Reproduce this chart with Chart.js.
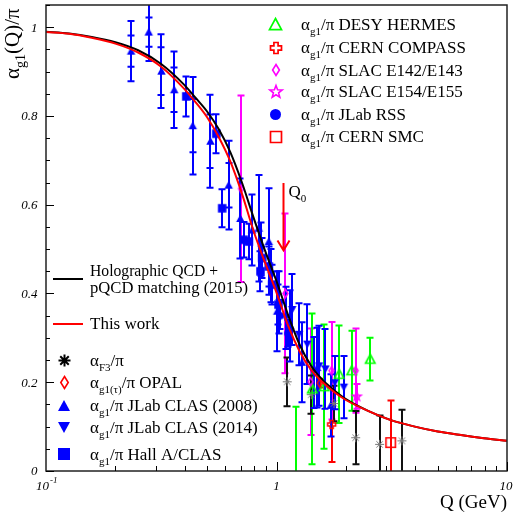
<!DOCTYPE html>
<html><head><meta charset="utf-8">
<script src="https://cdn.jsdelivr.net/npm/chart.js@4/dist/chart.umd.min.js"></script>
<style>html,body{margin:0;padding:0;background:#fff}canvas{display:block}</style>
</head><body>
<canvas id="c" width="515" height="515"></canvas>
<script>
// ---------- curves ----------
const qCurve   = [0.1, 0.126, 0.158, 0.2, 0.251, 0.316, 0.398, 0.447, 0.5, 0.562, 0.631, 0.708, 0.794, 0.891, 1.0, 1.122, 1.259, 1.413, 1.585, 1.778, 2.0, 2.51, 3.16, 3.98, 5.01, 6.31, 7.94, 10];
const holoQCD  = [0.990, 0.986, 0.978, 0.966, 0.948, 0.917, 0.870, 0.840, 0.810, 0.770, 0.718, 0.650, 0.572, 0.497, 0.428, 0.352, 0.285, 0.237, 0.205, 0.182, 0.162, 0.135, 0.114, 0.100, 0.089, 0.081, 0.074, 0.068];
const thisWork = [0.989, 0.985, 0.976, 0.963, 0.943, 0.911, 0.861, 0.830, 0.797, 0.752, 0.697, 0.625, 0.542, 0.47, 0.402, 0.328, 0.27, 0.228, 0.2, 0.178, 0.16, 0.135, 0.114, 0.100, 0.089, 0.081, 0.074, 0.068];

// ---------- data ----------
const qF3 = [1.113, 1.415, 1.775, 2.205, 2.80, 3.50];
const aF3 = [0.201, 0.172, 0.152, 0.075, 0.060, 0.068];
const eF3 = [0.055, 0.043, 0.04, 0.06, 0.065, 0.07];

const qOPAL = [1.54];
const aOPAL = [0.198];
const eOPAL = [0.01];

const q08 = [0.234, 0.279, 0.317, 0.360, 0.433, 0.517, 0.620, 0.697, 0.784, 0.838, 0.926, 1.007, 1.15, 1.29, 1.50, 1.72];
const a08 = [0.946, 0.989, 0.901, 0.859, 0.778, 0.743, 0.644, 0.569, 0.543, 0.547, 0.517, 0.36, 0.327, 0.245, 0.233, 0.148];
const e08 = [0.068, 0.065, 0.083, 0.086, 0.11, 0.105, 0.10, 0.09, 0.08, 0.12, 0.12, 0.09, 0.08, 0.09, 0.09, 0.07];
const s08 = [0.035, 0.033, 0.054, 0.05, 0.06, 0.06, 0.05, null, null, null, null, null, null, null, null, null];

const q14 = [0.86, 0.95, 1.03, 1.10, 1.17, 1.25, 1.36, 1.45, 1.53, 1.63, 1.79, 1.96];
const a14 = [0.50, 0.44, 0.38, 0.345, 0.364, 0.308, 0.286, 0.222, 0.237, 0.23, 0.199, 0.189];
const e14 = [0.06, 0.06, 0.07, 0.07, 0.08, 0.07, 0.09, 0.08, 0.09, 0.09, 0.06, 0.07];

const qHA = [0.406, 0.548, 0.581, 0.721, 0.758, 0.852, 0.867, 0.926, 0.958, 1.02];
const aHA = [0.844, 0.760, 0.592, 0.521, 0.517, 0.45, 0.48, 0.461, 0.42, 0.375];
const eHA = [0.045, 0.044, 0.043, 0.04, 0.04, 0.045, 0.045, 0.045, 0.045, 0.045];

const qHERMES = [1.22, 1.43, 1.61, 1.87, 2.12, 2.55];
const aHERMES = [-0.02, 0.185, 0.19, 0.218, 0.226, 0.252];
const eHERMES = [0.165, 0.17, 0.14, 0.11, 0.09, 0.048];

const qCOMPASS = [1.735];
const aCOMPASS = [0.105];
const eCOMPASS = [0.085];

const qE143 = [0.702, 1.094, 1.406, 1.735, 2.205];
const aE143 = [0.636, 0.40, 0.201, 0.226, 0.226];
const eE143 = [0.21, 0.18, 0.12, 0.11, 0.095];

const qE155 = [2.23];
const aE155 = [0.168];
const eE155 = [0.028];

const qRSS = [1.04, 1.12];
const aRSS = [0.35, 0.31];
const eRSS = [0.03, 0.03];

const qSMC = [3.13];
const aSMC = [0.064];
const eSMC = [0.095];

const yTickVals = [0, 0.2, 0.4, 0.6, 0.8, 1];
const yTickLabels = ['0', '0.2', '0.4', '0.6', '0.8', '1'];
const xMinorVals = [0.2,0.3,0.4,0.5,0.6,0.7,0.8,0.9,2,3,4,5,6,7,8,9];
const xMajorVals = [1, 10];
const qArrow = 1.065, arrowTop = 0.649, arrowBot = 0.497;

// ---------- helpers ----------
const SERIF = '"Liberation Serif", "DejaVu Serif", serif';
const BLUE='#0000ff', GREEN='#00ff00', MAG='#ff00ff', RED='#ff0000', GREY='#777777';
const pts = (q,a) => q.map((v,i)=>({x:v, y:a[i]}));

function mk(type, color, s, lw){
  const W = Math.ceil(s + (lw||1) + 3);
  const c = document.createElement('canvas'); c.width = c.height = W;
  const g = c.getContext('2d'); g.translate(W/2, W/2);
  const r = s/2; g.fillStyle = color; g.strokeStyle = color; g.lineWidth = lw||1;
  g.beginPath();
  switch(type){
    case 'triUp': g.moveTo(0,-r); g.lineTo(r, r*0.85); g.lineTo(-r, r*0.85); g.closePath(); g.fill(); break;
    case 'triDown': g.moveTo(0,r); g.lineTo(r,-r*0.85); g.lineTo(-r,-r*0.85); g.closePath(); g.fill(); break;
    case 'square': g.rect(-r,-r,s,s); g.fill(); break;
    case 'circle': g.arc(0,0,r,0,Math.PI*2); g.fill(); break;
    case 'triOpen': g.moveTo(0,-r); g.lineTo(r, r*0.85); g.lineTo(-r, r*0.85); g.closePath(); g.stroke(); break;
    case 'squareOpen': g.rect(-r,-r,s,s); g.stroke(); break;
    case 'diamondOpen': g.moveTo(0,-r); g.lineTo(r*0.62,0); g.lineTo(0,r); g.lineTo(-r*0.62,0); g.closePath(); g.stroke(); break;
    case 'crossOpen': { const w=r*0.38;
      g.moveTo(-w,-r); g.lineTo(w,-r); g.lineTo(w,-w); g.lineTo(r,-w); g.lineTo(r,w); g.lineTo(w,w);
      g.lineTo(w,r); g.lineTo(-w,r); g.lineTo(-w,w); g.lineTo(-r,w); g.lineTo(-r,-w); g.lineTo(-w,-w); g.closePath(); g.stroke(); break; }
    case 'starOpen': for(let i=0;i<10;i++){ const ang=-Math.PI/2+i*Math.PI/5; const rr=(i%2===0)?r:r*0.42;
        const px=rr*Math.cos(ang), py=rr*Math.sin(ang); if(i===0) g.moveTo(px,py); else g.lineTo(px,py);} g.closePath(); g.stroke(); break;
    case 'asterisk': for(let i=0;i<4;i++){ const ang=i*Math.PI/4; g.moveTo(-r*Math.cos(ang),-r*Math.sin(ang)); g.lineTo(r*Math.cos(ang), r*Math.sin(ang)); } g.stroke(); break;
  }
  return c;
}

function drawRich(ctx, x, yb, parts, size, subSize, subDy){
  let cx = x;
  parts.forEach(([t, sub])=>{
    ctx.font = (sub ? subSize : size) + 'px ' + SERIF;
    ctx.fillText(t, cx, yb + (sub ? subDy : 0));
    cx += ctx.measureText(t).width;
  });
  return cx - x;
}

const M = {
  f3: mk('asterisk', GREY, 9, 1),
  opal: mk('diamondOpen', RED, 8, 1.5),
  t08: mk('triUp', BLUE, 8.5, 1),
  t14: mk('triDown', BLUE, 8.5, 1),
  ha: mk('square', BLUE, 8.5, 1),
  hermes: mk('triOpen', GREEN, 9.5, 1.6),
  compass: mk('crossOpen', RED, 8, 1.5),
  e143: mk('diamondOpen', MAG, 8, 1.5),
  e155: mk('starOpen', MAG, 9, 1.5),
  rss: mk('circle', BLUE, 7.5, 1),
  smc: mk('squareOpen', RED, 9.5, 1.6)
};
const L = {
  f3: mk('asterisk', '#000', 12, 2),
  opal: mk('diamondOpen', RED, 12, 1.6),
  t08: mk('triUp', BLUE, 12, 1),
  t14: mk('triDown', BLUE, 12, 1),
  ha: mk('square', BLUE, 12, 1),
  hermes: mk('triOpen', GREEN, 12, 1.7),
  compass: mk('crossOpen', RED, 11, 1.7),
  e143: mk('diamondOpen', MAG, 11, 1.6),
  e155: mk('starOpen', MAG, 13, 1.6),
  rss: mk('circle', BLUE, 11, 1),
  smc: mk('squareOpen', RED, 11, 1.7)
};

function sds(label, q, a, e, marker, errColor, extra){
  return Object.assign({
    label, data: pts(q,a), err: e, errColor,
    showLine: false, pointStyle: marker, pointRadius: 4, pointHoverRadius: 4,
    clip: 0, order: 5
  }, extra||{});
}

const errPlugin = {
  id: 'errbars',
  beforeDatasetsDraw(chart){
    const {ctx, chartArea:a, scales:{x, y}} = chart;
    ctx.save();
    ctx.beginPath(); ctx.rect(a.left, a.top, a.right-a.left, a.bottom-a.top); ctx.clip();
    chart.data.datasets.forEach(ds=>{
      if(!ds.err) return;
      ctx.strokeStyle = ds.errColor; ctx.lineWidth = 2;
      ds.data.forEach((p,i)=>{
        const e = ds.err[i]; if(e==null) return;
        const px = Math.round(x.getPixelForValue(p.x));
        const y1 = y.getPixelForValue(p.y + e), y2 = y.getPixelForValue(p.y - e);
        ctx.beginPath();
        ctx.moveTo(px, y1); ctx.lineTo(px, y2);
        ctx.moveTo(px-3.5, y1); ctx.lineTo(px+3.5, y1);
        ctx.moveTo(px-3.5, y2); ctx.lineTo(px+3.5, y2);
        if(ds.stat && ds.stat[i]!=null){
          const s1 = y.getPixelForValue(p.y + ds.stat[i]), s2 = y.getPixelForValue(p.y - ds.stat[i]);
          ctx.moveTo(px-3.5, s1); ctx.lineTo(px+3.5, s1);
          ctx.moveTo(px-3.5, s2); ctx.lineTo(px+3.5, s2);
        }
        ctx.stroke();
      });
    });
    ctx.restore();
  }
};

const decoPlugin = {
  id: 'deco',
  afterDraw(chart){
    const {ctx, chartArea:a, scales:{x, y}} = chart;
    ctx.save();
    ctx.strokeStyle = '#222'; ctx.lineWidth = 1.5;
    ctx.strokeRect(a.left, a.top, a.right-a.left, a.bottom-a.top);
    ctx.lineWidth = 1; ctx.strokeStyle = '#000';
    for(let i=0;i<=21;i++){
      const v = i*0.05; const py = Math.round(y.getPixelForValue(v))+0.5;
      const len = (i%4===0) ? 8 : 4;
      ctx.beginPath(); ctx.moveTo(a.left, py); ctx.lineTo(a.left+len, py); ctx.stroke();
    }
    xMinorVals.forEach(v=>{ const px=Math.round(x.getPixelForValue(v))+0.5;
      ctx.beginPath(); ctx.moveTo(px, a.bottom); ctx.lineTo(px, a.bottom-5); ctx.stroke(); });
    xMajorVals.forEach(v=>{ const px=Math.round(x.getPixelForValue(v))+0.5;
      ctx.beginPath(); ctx.moveTo(px, a.bottom); ctx.lineTo(px, a.bottom-9); ctx.stroke(); });
    ctx.fillStyle = '#000';
    ctx.font = 'italic 13px ' + SERIF; ctx.textAlign = 'right'; ctx.textBaseline = 'middle';
    yTickVals.forEach((v,i)=>{ ctx.fillText(yTickLabels[i], 37.5, y.getPixelForValue(v)+1); });
    ctx.textBaseline = 'alphabetic'; ctx.textAlign = 'left';
    const p01 = x.getPixelForValue(0.1);
    ctx.font = 'italic 13px ' + SERIF; ctx.fillText('10', p01-10, 490);
    ctx.font = 'italic 9px ' + SERIF; ctx.fillText('-1', p01+4, 483);
    ctx.font = 'italic 13px ' + SERIF; ctx.textAlign = 'center';
    ctx.fillText('1', x.getPixelForValue(1), 490);
    ctx.fillText('10', x.getPixelForValue(10)-1, 490);
    ctx.textAlign = 'right'; ctx.font = '19px ' + SERIF;
    ctx.fillText('Q (GeV)', 507, 508);
    ctx.textAlign = 'left';
    ctx.save(); ctx.translate(19, 79); ctx.rotate(-Math.PI/2);
    drawRich(ctx, 0, 0, [['α',0],['g1',1],['(Q)/π',0]], 21, 14, 6);
    ctx.restore();
    const ax = Math.round(x.getPixelForValue(qArrow))+0.5;
    const yt = y.getPixelForValue(arrowTop), yb2 = y.getPixelForValue(arrowBot);
    ctx.strokeStyle = RED; ctx.lineWidth = 2;
    ctx.beginPath(); ctx.moveTo(ax, yt); ctx.lineTo(ax, yb2);
    ctx.moveTo(ax-6, yb2-10); ctx.lineTo(ax, yb2); ctx.lineTo(ax+6, yb2-10); ctx.stroke();
    ctx.fillStyle = '#000';
    drawRich(ctx, ax+5, 197, [['Q',0],['0',1]], 17, 11, 5);
    const tr = [
      [L.hermes, 'DESY HERMES'], [L.compass, 'CERN COMPASS'], [L.e143, 'SLAC E142/E143'],
      [L.e155, 'SLAC E154/E155'], [L.rss, 'JLab RSS'], [L.smc, 'CERN SMC']
    ];
    const trY = [24.3, 47.7, 70, 91.7, 114.3, 136.7];
    tr.forEach(([m, t], i)=>{
      ctx.drawImage(m, Math.round(275.7 - m.width/2), Math.round(trY[i] - m.height/2));
      drawRich(ctx, 301, trY[i]+5.7, [['α',0],['g1',1],['/π '+t,0]], 17, 11, 5);
    });
    ctx.strokeStyle = '#000'; ctx.lineWidth = 2;
    ctx.beginPath(); ctx.moveTo(53, 279); ctx.lineTo(83, 279); ctx.stroke();
    ctx.strokeStyle = RED;
    ctx.beginPath(); ctx.moveTo(53, 324); ctx.lineTo(83, 324); ctx.stroke();
    ctx.font = '17px ' + SERIF;
    ctx.fillText('Holographic QCD +', 90, 275.7, 128);
    ctx.fillText('pQCD matching (2015)', 90, 293.3, 158);
    ctx.fillText('This work', 90, 329);
    const bl = [
      [L.f3, [['α',0],['F3',1],['/π',0]], 360],
      [L.opal, [['α',0],['g1(τ)',1],['/π OPAL',0]], 382],
      [L.t08, [['α',0],['g1',1],['/π JLab CLAS (2008)',0]], 405.7],
      [L.t14, [['α',0],['g1',1],['/π JLab CLAS (2014)',0]], 427.3],
      [L.ha, [['α',0],['g1',1],['/π Hall A/CLAS',0]], 454]
    ];
    bl.forEach(([m, parts, yy])=>{
      ctx.drawImage(m, Math.round(64 - m.width/2), Math.round(yy - m.height/2));
      drawRich(ctx, 90, yy+5.5, parts, 17, 11, 5);
    });
    ctx.restore();
  }
};

new Chart(document.getElementById('c'), {
  type: 'scatter',
  data: {
    datasets: [
      { label:'Holographic QCD + pQCD matching (2015)', data: pts(qCurve, holoQCD), showLine:true, borderColor:'#000', borderWidth:2,
        pointRadius:0, cubicInterpolationMode:'monotone', clip:0, order:1 },
      { label:'This work', data: pts(qCurve, thisWork), showLine:true, borderColor:RED, borderWidth:2,
        pointRadius:0, cubicInterpolationMode:'monotone', clip:0, order:0 },
      sds('SMC', qSMC, aSMC, eSMC, M.smc, RED),
      sds('COMPASS', qCOMPASS, aCOMPASS, eCOMPASS, M.compass, RED),
      sds('OPAL', qOPAL, aOPAL, eOPAL, M.opal, RED),
      sds('E155', qE155, aE155, eE155, M.e155, MAG),
      sds('E143', qE143, aE143, eE143, M.e143, MAG),
      sds('HERMES', qHERMES, aHERMES, eHERMES, M.hermes, GREEN),
      sds('F3', qF3, aF3, eF3, M.f3, '#111'),
      sds('RSS', qRSS, aRSS, eRSS, M.rss, BLUE),
      sds('HallA', qHA, aHA, eHA, M.ha, BLUE),
      sds('CLAS2014', q14, a14, e14, M.t14, BLUE),
      sds('CLAS2008', q08, a08, e08, M.t08, BLUE, {stat: s08})
    ]
  },
  options: {
    responsive: false, animation: false, devicePixelRatio: 1,
    layout: { padding: { left: 46, right: 8, top: 2, bottom: 44 } },
    plugins: { legend: { display: false }, tooltip: { enabled: false } },
    events: [],
    scales: {
      x: { type: 'logarithmic', min: 0.1, max: 10, display: false },
      y: { type: 'linear', min: 0, max: 1.05, display: false }
    }
  },
  plugins: [errPlugin, decoPlugin]
});
</script>
</body></html>
